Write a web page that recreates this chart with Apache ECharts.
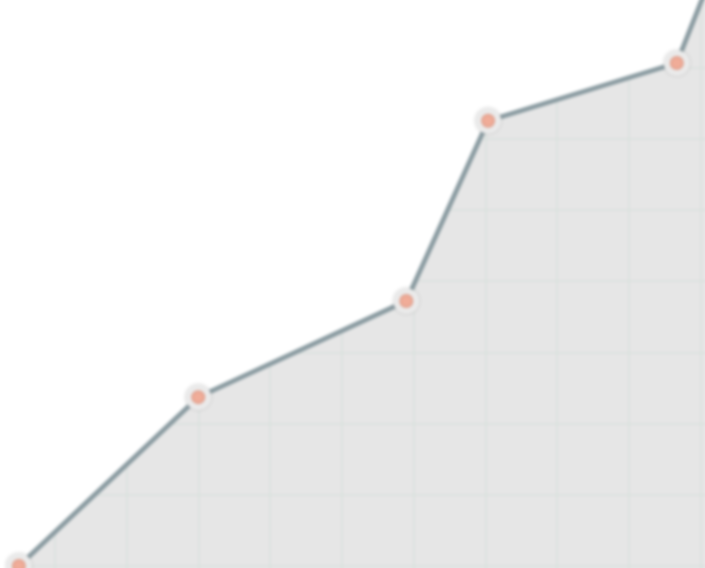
<!DOCTYPE html>
<html>
<head>
<meta charset="utf-8">
<script src="https://cdn.jsdelivr.net/npm/echarts@6/dist/echarts.min.js"></script>
<style>
  html, body { margin: 0; padding: 0; background: #fff; overflow: hidden; }
  /* the chart is bigger than the window: the reference is a close crop, axes lie outside */
  #main { position: absolute; left: -100px; top: -160px; width: 900px; height: 900px; filter: blur(1.5px); }
</style>
</head>
<body>
<div id="main"></div>
<script>
// values
var xValues = [-15, -5, 20, 49, 60.4, 86.7, 95];
var yValues = [-10, 0, 23.7, 37.2, 62.5, 70.6, 91.7];

var X_MIN = -20, X_MAX = 100, Y_MIN = -20, Y_MAX = 100, STEP = 10;

var points = [];
for (var i = 0; i < xValues.length; i++) {
  points.push([xValues[i], yValues[i]]);
}

var chart = echarts.init(document.getElementById('main'), null, { renderer: 'canvas' });

var option = {
  animation: false,
  backgroundColor: '#fff',
  grid: { left: 11.25, right: 27.75, top: 13.5, bottom: 31.5 },
  xAxis: {
    type: 'value', min: X_MIN, max: X_MAX, interval: STEP, z: 2,
    axisLine: { show: false }, axisTick: { show: false }, axisLabel: { show: false },
    splitLine: { show: true, lineStyle: { color: '#d9dfdd', width: 1.5 } }
  },
  yAxis: {
    type: 'value', min: Y_MIN, max: Y_MAX, interval: STEP, z: 2,
    axisLine: { show: false }, axisTick: { show: false }, axisLabel: { show: false },
    splitLine: { show: true, lineStyle: { color: '#d9dfdd', width: 1.5 } }
  },
  series: [
    {
      // grey fill under the line
      type: 'line', z: 1, silent: true,
      data: points, symbol: 'none',
      lineStyle: { width: 0, opacity: 0 },
      areaStyle: { color: '#e6e6e6', opacity: 1, origin: 'start' }
    },
    {
      // white above the line hides the grid there, then line and dots
      type: 'line', z: 3, silent: true,
      data: points,
      symbol: 'circle', symbolSize: 20, showAllSymbol: true,
      lineStyle: { color: '#8a9ba1', width: 4.8 },
      itemStyle: {
        color: '#f0ac98', borderColor: '#eaeaea', borderWidth: 6,
        shadowBlur: 3, shadowColor: 'rgba(0,0,0,0.18)'
      },
      areaStyle: { color: '#ffffff', opacity: 1, origin: 'end' }
    }
  ]
};

chart.setOption(option);
</script>
</body>
</html>
